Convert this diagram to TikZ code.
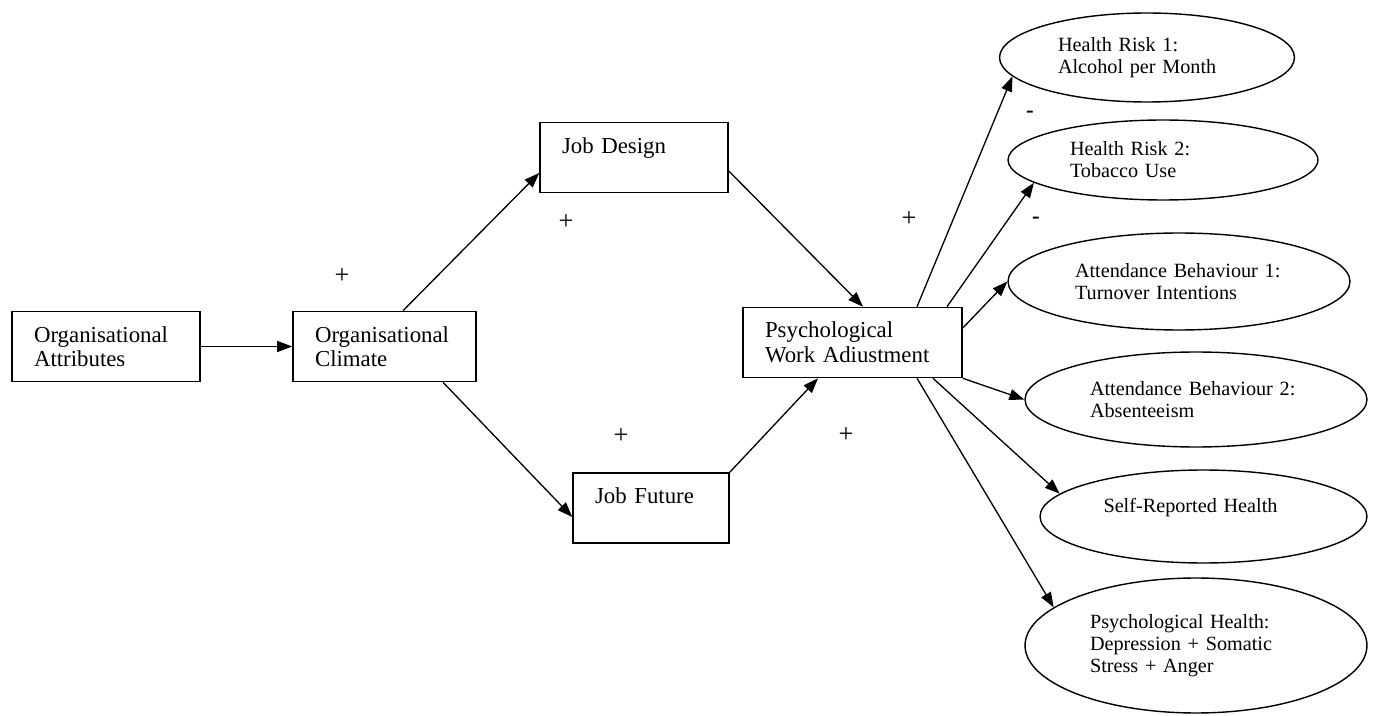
\documentclass[tikz,border=0pt]{standalone}
\usepackage{fontspec}
\setmainfont{Liberation Serif}
\usetikzlibrary{arrows.meta,positioning,shapes.geometric,calc}

\begin{document}
\begin{tikzpicture}[x=0.02cm,y=-0.02cm,
  box/.style={draw,line width=0.9pt,align=left,text width=#1,inner xsep=0.44cm,
    inner ysep=0pt,minimum height=1.4cm,font=\fontsize{13}{14}\selectfont},
  outcome/.style={draw,ellipse,line width=0.8pt,align=left,inner sep=0pt,
    text width=#1,font=\fontsize{11.5}{12.5}\selectfont},
  path/.style={line width=0.75pt,-{Triangle[length=3mm,width=2.2mm]}},
  sign/.style={font=\fontsize{15}{15}\selectfont}
]
  \useasboundingbox (0,0) rectangle (1377,716);
  % Predictor chain
  \node[box=2.88cm] (attrib) at (106,346.5) {Organisational\\Attributes};
  \node[box=2.78cm] (climate) at (384.5,346.5) {Organisational\\Climate};
  \node[box=2.88cm] (design) at (634,157.5) {Job Design\\\mbox{}};
  \node[box=2.24cm] (future) at (651,508) {Job Future\\\mbox{}};
  \node[box=3.5cm] (adjust) at (852.5,342.5) {Psychological\\Work Adiustment};
  % Outcomes
  \node[outcome=3.56cm,minimum width=5.9cm,minimum height=1.78cm] (risk1) at (1147,57.5)
    {Health Risk 1:\\Alcohol per Month};
  \node[outcome=3.72cm,minimum width=6.2cm,minimum height=1.6cm] (risk2) at (1163,160)
    {Health Risk 2:\\Tobacco Use};
  \node[outcome=4.16cm,minimum width=6.84cm,minimum height=1.94cm] (attend1) at (1179,281.5)
    {Attendance Behaviour 1:\\Turnover Intentions};
  \node[outcome=4.24cm,minimum width=6.84cm,minimum height=1.9cm] (attend2) at (1196,399.5)
    {Attendance Behaviour 2:\\Absenteeism};
  \node[outcome=4cm,minimum width=6.54cm,minimum height=1.86cm] (selfrep) at (1203.5,516.5)
    {Self-Reported Health\\\mbox{}};
  \node[outcome=4.24cm,minimum width=6.84cm,minimum height=2.7cm] (psyhealth) at (1196,645.5)
    {Psychological Health:\\Depression + Somatic\\Stress + Anger};
  % Paths
  \draw[path] (attrib) -- (climate);
  \draw[path] ([xshift=0.37cm]climate.north) -- ([yshift=-0.31cm]design.west);
  \draw[path] ([xshift=1.17cm]climate.south) -- ([yshift=-0.18cm]future.west);
  \draw[path] ([yshift=-0.27cm]design.east) -- ([xshift=0.21cm]adjust.north);
  \draw[path] (future.north east) -- ([xshift=-0.69cm]adjust.south);
  \draw[path] ([xshift=1.29cm]adjust.north) -- (risk1.188);
  \draw[path] ([xshift=1.89cm]adjust.north) -- (risk2.190);
  \draw[path] ([yshift=0.29cm]adjust.east) -- (attend1.180);
  \draw[path] (adjust.south east) -- (attend2.180);
  \draw[path] ([xshift=1.61cm]adjust.south) -- (selfrep.171);
  \draw[path] ([xshift=1.29cm]adjust.south) -- (psyhealth.165);
  % Signs
  \node[sign] (plus1) at (342,276) {+};
  \node[sign] (plus2) at (566,222) {+};
  \node[sign] (plus3) at (621,436) {+};
  \node[sign] (plus4) at (909,219) {+};
  \node[sign] (plus5) at (846,435) {+};
  \node[sign,font=\fontsize{13}{13}\bfseries] (minus1) at (1030,114) {-};
  \node[sign,font=\fontsize{13}{13}\bfseries] (minus2) at (1036,220) {-};
\end{tikzpicture}
\end{document}
